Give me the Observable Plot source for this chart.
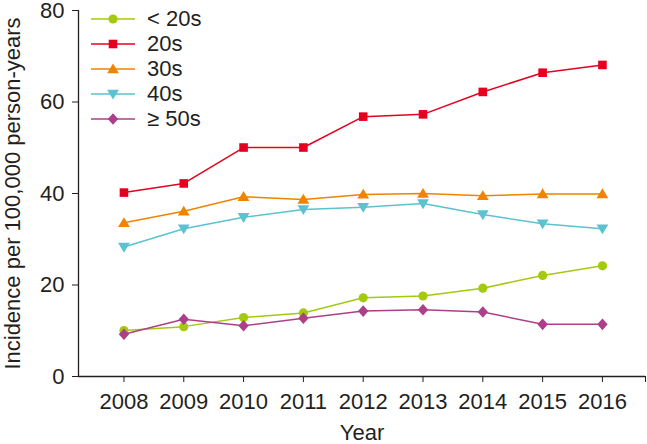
<!DOCTYPE html>
<html><head><meta charset="utf-8">
<script src="https://cdn.jsdelivr.net/npm/d3@7"></script>
<script src="https://cdn.jsdelivr.net/npm/@observablehq/plot@0.6"></script>
<style>
body{margin:0;background:#fff}
#wrap{position:relative;width:647px;height:444px;font-family:"Liberation Sans",Arial,sans-serif;color:#231f20}
#legend{position:absolute;left:90px;top:6px}
.row{display:flex;align-items:center;height:25px;font-size:22px}
.row svg{display:block;margin-right:11px}
</style></head><body><div id="wrap"><div id="legend"></div></div><script>
const years = [2008, 2009, 2010, 2011, 2012, 2013, 2014, 2015, 2016];
const seriesNames = ["< 20s", "20s", "30s", "40s", "≥ 50s"];
const under20 = [10.05, 10.9, 12.9, 13.9, 17.2, 17.6, 19.3, 22.1, 24.2];
const age20s = [40.2, 42.2, 50.05, 50.05, 56.8, 57.3, 62.2, 66.4, 68.1];
const age30s = [33.6, 36.1, 39.3, 38.7, 39.8, 40.0, 39.5, 39.9, 39.9];
const age40s = [28.3, 32.3, 34.8, 36.5, 37.0, 37.8, 35.4, 33.4, 32.3];
const age50plus = [9.25, 12.5, 11.1, 12.75, 14.3, 14.6, 14.1, 11.4, 11.4];
const yTicks = [0, 20, 40, 60, 80];
const colors = ["#a5c90f", "#e60020", "#f08300", "#5bc2d0", "#ad3f8a"];

const seriesValues = [under20, age20s, age30s, age40s, age50plus];
const data = seriesNames.flatMap((s, i) => years.map((y, j) => ({series: s, year: y, value: seriesValues[i][j]})));

const symCircle = {draw(c) { c.moveTo(4.6, 0); c.arc(0, 0, 4.6, 0, 2 * Math.PI); }};
const symSquare = {draw(c) { c.rect(-4.3, -4.3, 8.6, 8.6); }};
const symUp = {draw(c) { c.moveTo(0, -5.6); c.lineTo(5.9, 4.2); c.lineTo(-5.9, 4.2); c.closePath(); }};
const symDown = {draw(c) { c.moveTo(0, 5.6); c.lineTo(5.9, -4.2); c.lineTo(-5.9, -4.2); c.closePath(); }};
const symDiamond = {draw(c) { c.moveTo(0, -5.8); c.lineTo(5.2, 0); c.lineTo(0, 5.8); c.lineTo(-5.2, 0); c.closePath(); }};
const symbols = [symCircle, symSquare, symUp, symDown, symDiamond];

const xDomain = [2007.24, 2016.72];
const ink = "#231f20";

const chart = Plot.plot({
  width: 647,
  height: 444,
  marginLeft: 78,
  marginRight: 2,
  marginTop: 10,
  marginBottom: 68,
  style: {fontFamily: '"Liberation Sans", Arial, sans-serif', fontSize: "22px", color: ink, background: "#fff"},
  x: {domain: xDomain},
  y: {domain: [0, 80]},
  color: {domain: seriesNames, range: colors},
  symbol: {domain: seriesNames, range: symbols},
  marks: [
    Plot.axisY({ticks: yTicks, tickSize: 6, tickPadding: 8, stroke: ink, fill: ink,
      label: "Incidence per 100,000 person-years", labelAnchor: "center", labelOffset: 74, labelArrow: false}),
    Plot.axisX({ticks: years, tickFormat: d3.format("d"), tickSize: 6, tickPadding: 11, stroke: ink, fill: ink,
      label: "Year", labelAnchor: "center", labelOffset: 63, labelArrow: false}),
    Plot.axisX({ticks: [xDomain[1]], tickFormat: () => "", tickSize: 6, stroke: ink, label: null}),
    Plot.ruleY([0], {stroke: ink, strokeWidth: 1.3}),
    Plot.ruleX([xDomain[0]], {stroke: ink, strokeWidth: 1.3}),
    ...seriesNames.flatMap(s => [
      Plot.line(data.filter(d => d.series === s), {x: "year", y: "value", stroke: "series", strokeWidth: 1.5}),
      Plot.dot(data.filter(d => d.series === s), {x: "year", y: "value", fill: "series", symbol: "series", r: 4.5, stroke: "none"})
    ])
  ]
});
document.getElementById("wrap").prepend(chart);

const legend = document.getElementById("legend");
seriesNames.forEach((s, i) => {
  const row = document.createElement("div");
  row.className = "row";
  const p = d3.path();
  symbols[i].draw(p);
  row.innerHTML = `<svg width="46" height="16" viewBox="-23 -8 46 16"><line x1="-22" x2="22" y1="0" y2="0" stroke="${colors[i]}" stroke-width="1.5"/><path d="${p.toString()}" fill="${colors[i]}"/></svg><span>${s.replace("<", "&lt;")}</span>`;
  legend.appendChild(row);
});
</script></body></html>
